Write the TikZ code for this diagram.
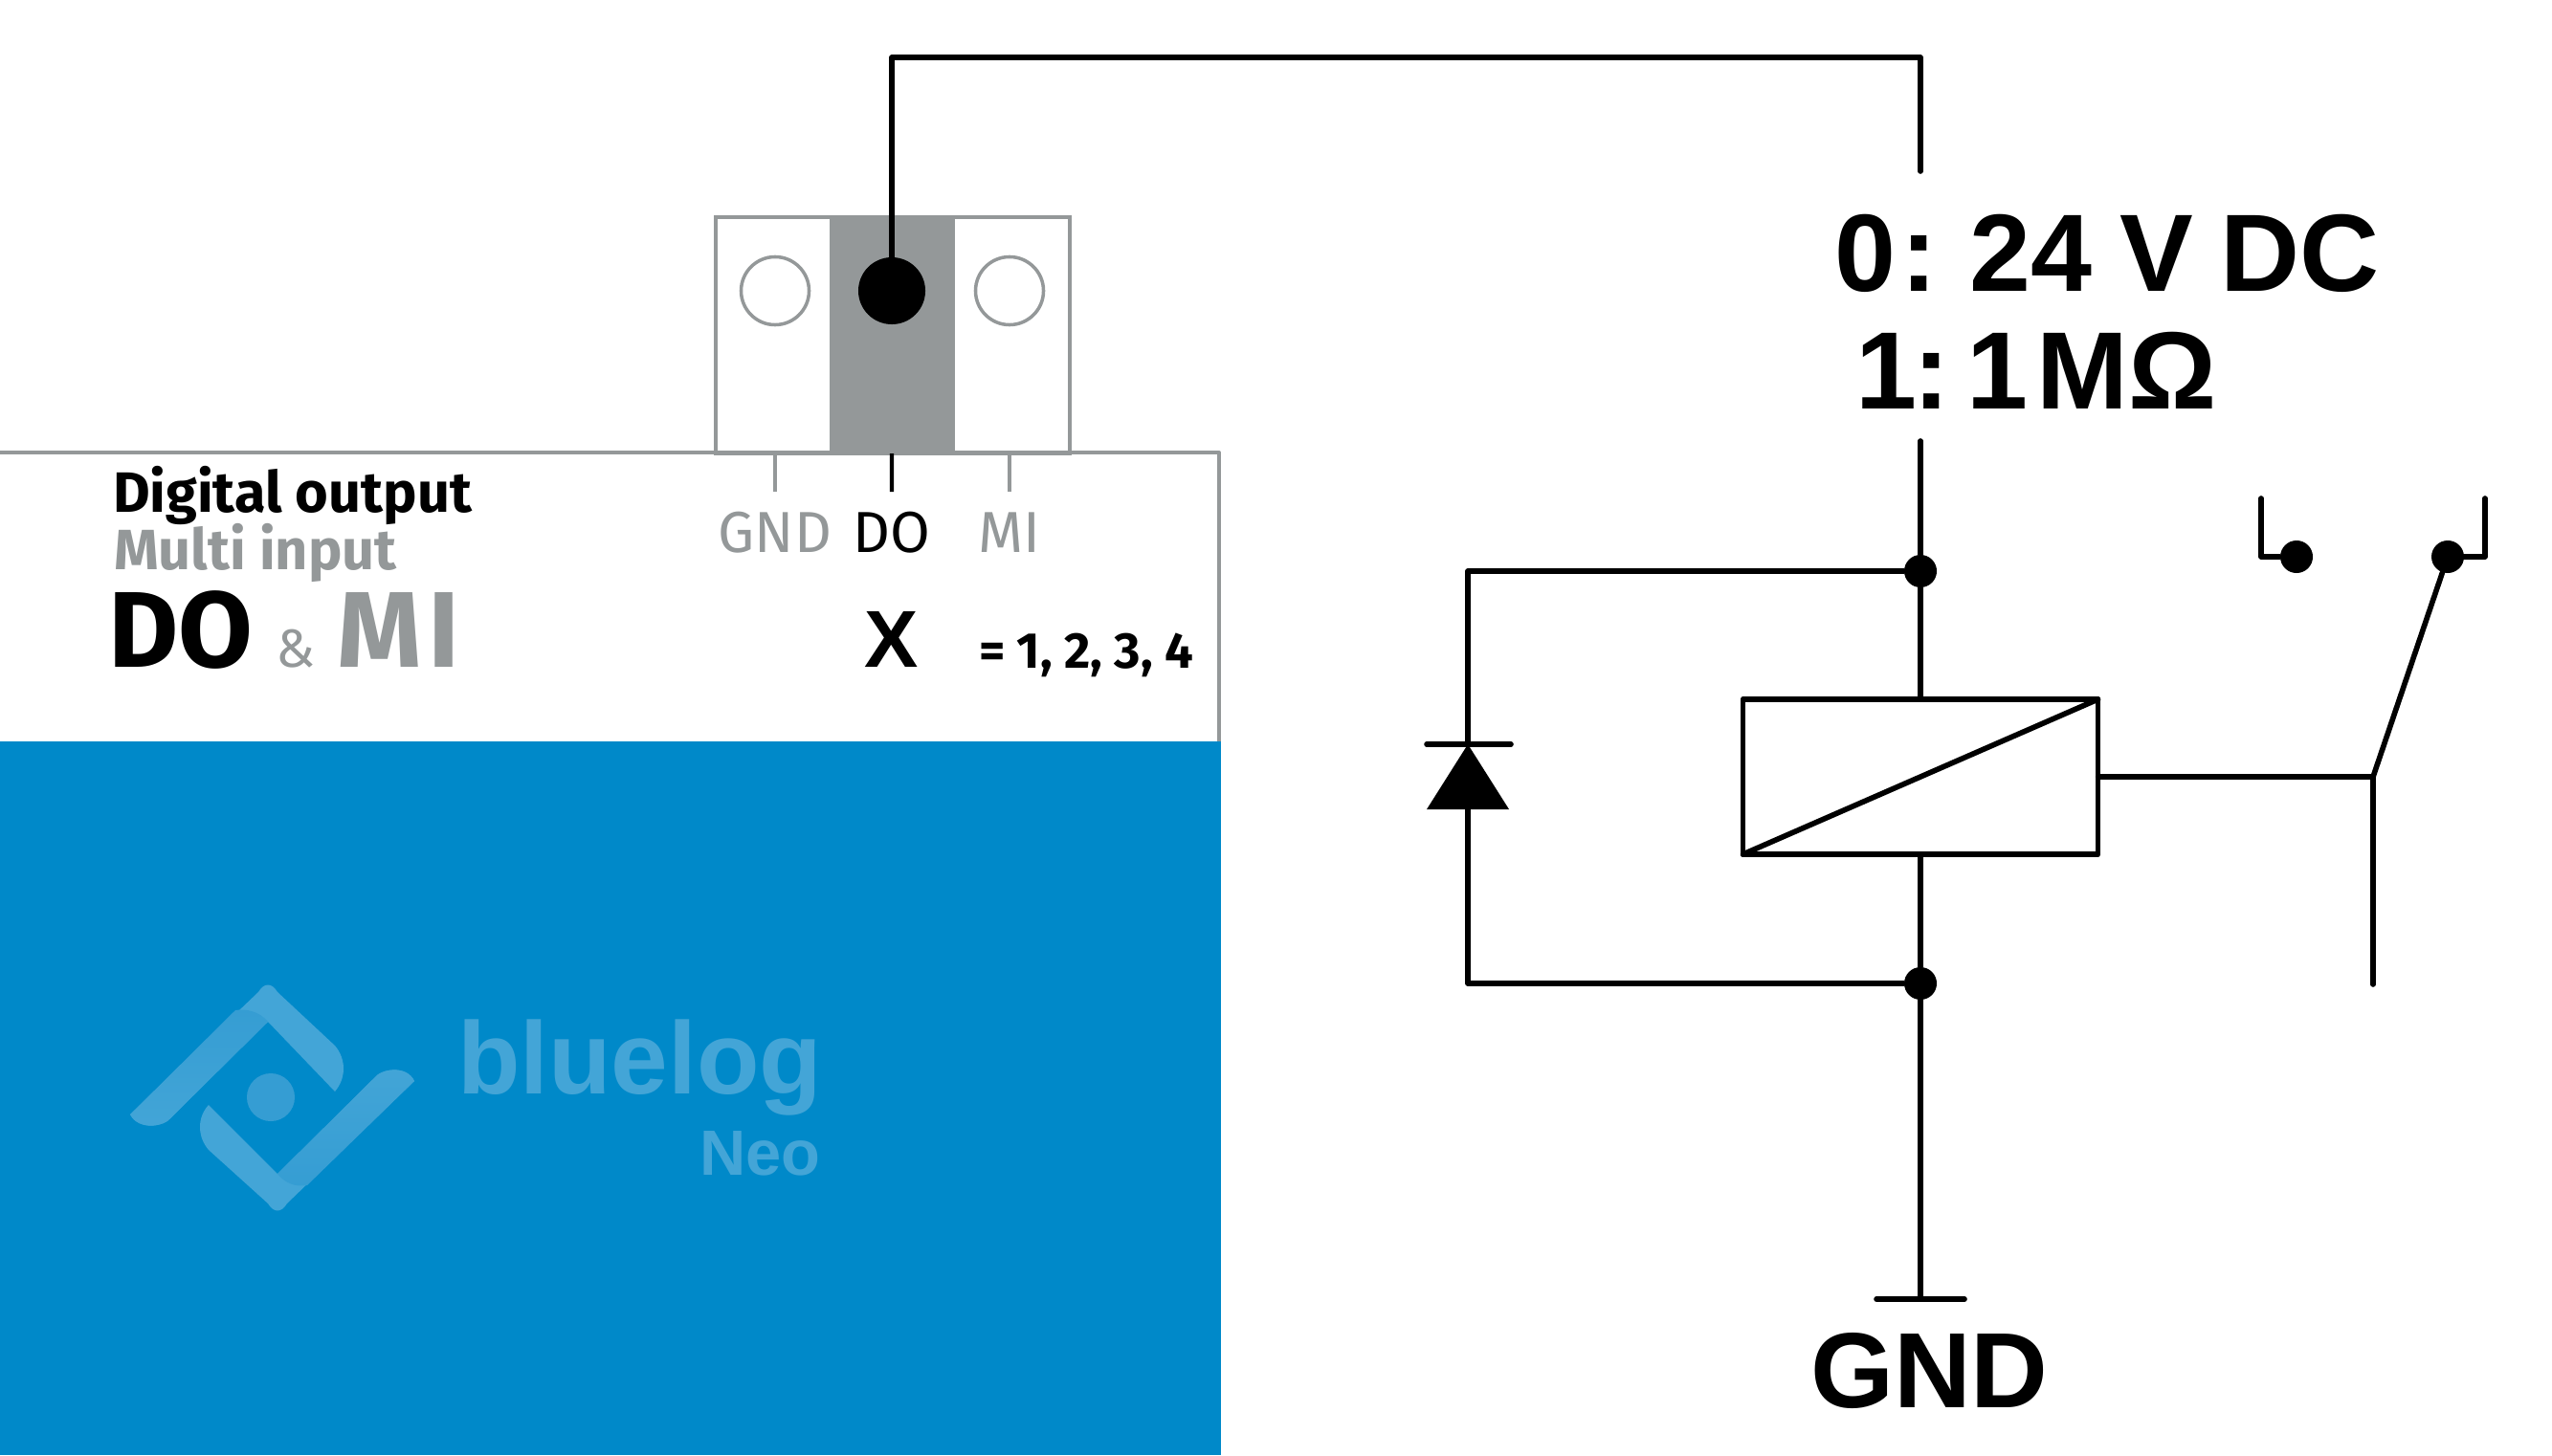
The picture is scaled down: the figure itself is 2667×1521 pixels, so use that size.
\documentclass[tikz,border=0pt]{standalone}
\usepackage{fontspec}
\setmainfont{Liberation Sans}
\newfontfamily\panelfont{Fira Sans}
\newcommand{\tightwords}{\spaceskip 0.25em\relax}
\usetikzlibrary{positioning}
\usetikzlibrary{calc}
\definecolor{bluepanel}{HTML}{0089C9}
\definecolor{greypin}{HTML}{949899}
\definecolor{logoa}{HTML}{43A5D7}
\definecolor{logob}{HTML}{359DD3}
\tikzset{wire/.style={line width=1.6pt, line cap=round, line join=round}}
\tikzset{thin grey/.style={line width=1pt, draw=greypin}}
\tikzset{jn/.style={draw=none, circle, fill=black, minimum size=0.34cm, inner sep=0pt}}
\tikzset{cell/.style={thin grey, minimum width=1.22cm, minimum height=2.47cm, inner sep=0pt, outer sep=0pt}}
\tikzset{hole/.style={thin grey, circle, fill=white, minimum size=0.71cm, inner sep=0pt}}
\tikzset{txt/.style={anchor=base west, inner sep=0pt, outer sep=0pt}}
\tikzset{big/.style={txt, font=\bfseries\fontsize{32.7}{36}\selectfont\tightwords}}
\tikzset{pin/.style={anchor=base, inner sep=0pt, font=\panelfont\fontsize{17.2}{19}\selectfont}}
\begin{document}
\begin{tikzpicture}[x=0.01cm, y=-0.01cm]
\useasboundingbox (0,0) rectangle (2667,1521);

\fill[bluepanel] (0,775) rectangle (1276,1521);
\draw[line width=1.1pt, greypin, line join=round] (0,473) -- (1274,473) -- (1274,775);

\node (cellG) [cell, draw, anchor=north west] at (748,227) {};
\node (cellM) [cell, draw, anchor=north west] at (996,227) {};
\node (cellD) [cell, fill=greypin, anchor=north west, minimum width=1.26cm] at (869,227) {};

\node (holeG) [hole] at (810,304) {};
\node (holeM) [hole] at (1055,304) {};
\node (holeD) [jn, minimum size=0.7cm] at (932,304) {};

\node (pinG) [pin, text=greypin] at (810,577) {GND};
\node (pinD) [pin] at (932,577) {DO};
\node (pinM) [pin, text=greypin] at (1055,577) {MI};
\coordinate (tickG) at (810,514);
\coordinate (tickD) at (932,514);
\coordinate (tickM) at (1055,514);
\draw[thin grey] (cellG.south -| holeG) -- (tickG);
\draw[line width=1.2pt] (cellD.south) -- (tickD);
\draw[thin grey] (cellM.south -| holeM) -- (tickM);

\node (title) [txt, font=\panelfont\bfseries\fontsize{16.9}{18}\selectfont] at (118,535) {Digital output};
\node (sub) [txt, text=greypin, font=\panelfont\bfseries\fontsize{16.9}{18}\selectfont] at (119,595) {Multi input};
\node (doT) [txt, font=\panelfont\bfseries\fontsize{32}{36}\selectfont] at (113,697) {DO};
\node (ampT) [txt, text=greypin, font=\panelfont\fontsize{16}{18}\selectfont] at (288,697) {\&};
\node (miT) [txt, text=greypin, font=\panelfont\bfseries\fontsize{32}{36}\selectfont] at (352,697) {M\kern0.07cm I};
\node (xT) [anchor=base, inner sep=0pt, font=\bfseries\fontsize{24}{26}\selectfont] at (932,697) {X};
\node (nums) [txt, font=\panelfont\bfseries\fontsize{15}{16}\selectfont] at (1023,698) {= 1, 2, 3, 4};

\fill[logoa] (136,1165) -- (270,1037) .. controls (276,1027) and (284,1027) .. (290,1037)
  -- (350,1093) .. controls (362,1107) and (362,1127) .. (350,1141) -- (280,1068) -- (179,1168)
  .. controls (172,1178) and (145,1182) .. (136,1165) -- cycle;
\shade[top color=logob, bottom color=logoa] (246,1056) .. controls (258,1054) and (272,1058) .. (280,1068)
  -- (179,1168) .. controls (172,1178) and (145,1182) .. (136,1165) -- cycle;
\fill[logoa] (433,1130) -- (300,1258) .. controls (294,1268) and (286,1268) .. (280,1258)
  -- (218,1202) .. controls (206,1188) and (206,1168) .. (218,1155) -- (290,1227) -- (391,1127)
  .. controls (398,1117) and (425,1113) .. (433,1130) -- cycle;
\shade[top color=logoa, bottom color=logob] (321,1239) .. controls (309,1241) and (298,1237) .. (290,1227)
  -- (391,1127) .. controls (398,1117) and (425,1113) .. (433,1130) -- cycle;
\node (logoC) [circle, fill=logob, minimum size=0.5cm, inner sep=0pt] at (283,1147) {};
\node (bluelog) [txt, text=logoa, font=\bfseries\fontsize{30.5}{32}\selectfont] at (478,1143) {bluelog};
\node (neo) [txt, text=logoa, font=\bfseries\fontsize{19}{20}\selectfont] at (731,1228) {Neo};

\node (lab0) [big] at (1917,304) {0\kern0.06cm: \kern-0.06cm 24 V DC};
\node (lab1) [big] at (1917,427) {\hspace{0.22cm}1\kern-0.03cm: \kern-0.22cm 1 \kern-0.2cm MΩ};
\node (gnd) [big, font=\bfseries\fontsize{31.8}{36}\selectfont] at (1892,1471) {GND};

\coordinate (topR) at (2007,60);
\coordinate (brk1) at (2007,179);
\coordinate (brk2) at (2007,461);
\node (jtop) [jn] at (2007,597) {};
\node (jbot) [jn] at (2007,1028) {};
\node (relay) [draw, wire, minimum width=3.71cm, minimum height=1.62cm, inner sep=0pt, outer sep=0pt] at (2007,812) {};
\coordinate (gndL) at (1961,1358);
\coordinate (gndR) at (2053,1358);
\coordinate (gndM) at (2007,1358);

\draw[wire] (holeD.center) |- (topR) -- (brk1);
\draw[wire] (brk2) -- (jtop) -- (relay.north);
\draw[wire] (relay.south) -- (jbot) -- (gndM);
\draw[wire] (gndL) -- (gndR);
\draw[wire] (relay.south west) -- (relay.north east);

\coordinate (dioBarL) at (1491,778);
\coordinate (dioBarR) at (1579,778);
\coordinate (dioTop) at (1534,778);
\coordinate (dioBase) at (1534,846);
\draw[wire] (jtop) -| (dioTop);
\draw[wire] (jbot) -| (dioBase);
\draw[wire] (dioBarL) -- (dioBarR);
\fill (dioTop) -- (1577,846) -- (1491,846) -- cycle;

\coordinate (armJ) at (2480,812);
\coordinate (armEnd) at (2480,1029);
\node (contL) [jn] at (2400,582) {};
\node (contR) [jn] at (2558,582) {};
\coordinate (brL) at (2363,521);
\coordinate (brR) at (2597,521);
\draw[wire] (relay.east) -- (armJ) -- (armEnd);
\draw[wire] (armJ) -- (contR);
\draw[wire] (brL) |- (contL);
\draw[wire] (brR) |- (contR);
\end{tikzpicture}
\end{document}
